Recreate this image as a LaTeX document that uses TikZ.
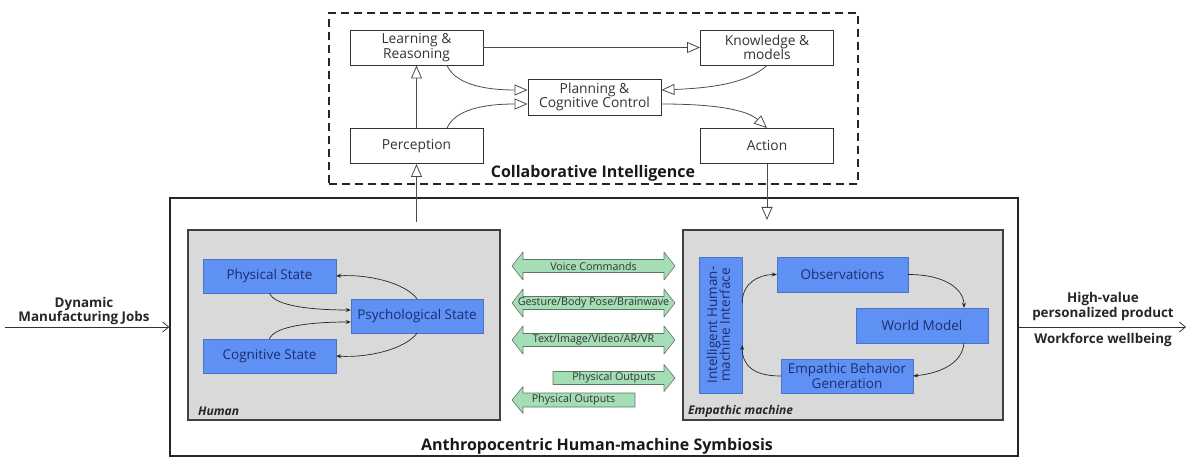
\documentclass[tikz,border=0pt]{standalone}
\usepackage{fontspec}
\setmainfont{Open Sans}
\usetikzlibrary{arrows.meta}

\definecolor{stateblue}{RGB}{95,145,245}
\definecolor{statetext}{RGB}{28,45,110}
\definecolor{panelgray}{RGB}{217,217,217}
\definecolor{chanfill}{RGB}{165,222,182}
\definecolor{chanline}{RGB}{95,118,100}

\tikzset{
  cibox/.style={draw=black!80, line width=0.9pt, fill=white, minimum width=133pt,
    minimum height=35pt, align=center, inner sep=0pt,
    font=\fontsize{13.8}{14.5}\selectfont, text=black!80},
  statebox/.style={fill=stateblue, draw=stateblue!80!black, line width=0.4pt,
    minimum width=133pt, minimum height=34pt, inner sep=0pt, align=center,
    font=\fontsize{13.5}{14.5}\selectfont, text=statetext},
  panelbox/.style={draw=black!75, line width=1.1pt, fill=panelgray, inner sep=0pt},
  hollow/.style={-{Triangle[open, length=13pt, width=11pt, fill=white]},
    draw=black!70, line width=0.8pt},
  solidtip/.style={-{Stealth[length=5pt, width=4pt]}, line width=0.7pt, draw=black!85},
  flowtip/.style={-{Straight Barb[length=6pt, width=10pt]}, line width=0.8pt, draw=black!80},
  chan/.style={draw=chanline, fill=chanfill, line width=0.6pt, line join=round},
  chantext/.style={font=\fontsize{10.7}{12}\selectfont, text=black!80, inner sep=0pt},
  sidelabel/.style={font=\bfseries\fontsize{13.4}{14}\selectfont, align=center,
    inner sep=0pt, text=black!85},
  paneltag/.style={font=\bfseries\itshape\fontsize{12}{13}\selectfont, anchor=west,
    inner sep=0pt, text=black!85},
}

% two-headed channel arrow: name, left x, right x, centre y, label
\newcommand\chanboth[5]{%
  \draw[chan] (#2,#4) -- ({#2+11},{#4-14}) -- ({#2+11},{#4-6.5})
    -- ({#3-11},{#4-6.5}) -- ({#3-11},{#4-14}) -- (#3,#4)
    -- ({#3-11},{#4+14}) -- ({#3-11},{#4+6.5}) -- ({#2+11},{#4+6.5})
    -- ({#2+11},{#4+14}) -- cycle;
  \node[chantext] (#1) at ({(#2+#3)/2},#4) {#5};}
% one-headed channel arrow pointing right
\newcommand\chanright[5]{%
  \draw[chan] (#2,{#4-6.5}) -- ({#3-11},{#4-6.5}) -- ({#3-11},{#4-13.5})
    -- (#3,#4) -- ({#3-11},{#4+13.5}) -- ({#3-11},{#4+6.5})
    -- (#2,{#4+6.5}) -- cycle;
  \node[chantext] (#1) at ({(#2+#3)/2},#4) {#5};}
% one-headed channel arrow pointing left
\newcommand\chanleft[5]{%
  \draw[chan] (#2,#4) -- ({#2+11},{#4-13.5}) -- ({#2+11},{#4-7})
    -- (#3,{#4-7}) -- (#3,{#4+7}) -- ({#2+11},{#4+7})
    -- ({#2+11},{#4+13.5}) -- cycle;
  \node[chantext] (#1) at ({(#2+#3)/2},#4) {#5};}

\begin{document}
\begin{tikzpicture}[x=1pt, y=-1pt]
\useasboundingbox (0,0) rectangle (1186,457);

% outer symbiosis frame and its two panels
\node[draw=black!85, line width=1.5pt, minimum width=848pt, minimum height=258pt,
  inner sep=0pt] (ahs) at (594,327) {};
\node[panelbox, minimum width=312pt, minimum height=190pt] (human) at (344,325) {};
\node[panelbox, minimum width=320pt, minimum height=190pt] (machine) at (843,325) {};
\node[paneltag] (humantag) at (198,411) {Human};
\node[paneltag] (machinetag) at (688,411) {Empathic machine};
\node[font=\bfseries\fontsize{16}{18}\selectfont, inner sep=0pt, text=black!90]
  (ahslabel) at (597,446) {Anthropocentric Human-machine Symbiosis};

% collaborative intelligence frame
\node[draw=black!85, line width=1.5pt, dash pattern=on 8pt off 5pt,
  minimum width=529pt, minimum height=171pt, inner sep=0pt] (ci) at (593.5,98.5) {};
\node[font=\bfseries\fontsize{16}{18}\selectfont, inner sep=0pt, text=black!90]
  (cilabel) at (593,173) {Collaborative Intelligence};

\node[cibox] (lr) at (416.5,47.5) {Learning \&\\Reasoning};
\node[cibox] (know) at (767,47.5) {Knowledge \&\\models};
\node[cibox, minimum height=36pt] (plan) at (594.5,97) {Planning \&\\Cognitive Control};
\node[cibox] (perc) at (416.5,146) {Perception};
\node[cibox] (act) at (767,146) {Action};

\draw[hollow] (lr.east) -- (know.west);
\draw[hollow] (perc.north) -- (lr.south);
\draw[hollow] ([xshift=30.5pt]lr.south) .. controls +(8,18) and +(-45,0) .. ([yshift=7pt]plan.west);
\draw[hollow] ([xshift=30.5pt]perc.north) .. controls +(8,-18) and +(-45,0) .. ([yshift=-7pt]plan.west);
\draw[hollow] (know.south) .. controls +(-20,18) and +(50,-2) .. ([yshift=7pt]plan.east);
\draw[hollow] ([yshift=-7pt]plan.east) .. controls +(55,0) and +(-20,-18) .. (act.north);

\coordinate (percin) at (416.5,222);
\coordinate (actout) at (767,220);
\draw[hollow] (percin) -- (perc.south);
\draw[hollow] (act.south) -- (actout);

% human states
\node[statebox] (phys) at (269.5,276) {Physical State};
\node[statebox, minimum width=132pt] (psych) at (417,316) {Psychological State};
\node[statebox] (cog) at (269.5,356) {Cognitive State};

\draw[solidtip] (psych.north) .. controls +(-12,-16) and +(32,-2) .. (phys.east);
\draw[solidtip] (phys.south) .. controls +(5,13) and +(-38,0) .. ([yshift=6pt]psych.west);
\draw[solidtip] (cog.north) .. controls +(5,-13) and +(-38,0) .. ([yshift=-6pt]psych.west);
\draw[solidtip] (psych.south) .. controls +(-12,16) and +(32,2) .. (cog.east);

% empathic machine
\node[statebox, minimum width=43pt, minimum height=136pt] (hmi) at (720.5,325)
  {\rotatebox{90}{\begin{tabular}{@{}c@{}}Intelligent Human-\\[-2pt]machine Interface\end{tabular}}};
\node[statebox, minimum width=131pt, minimum height=35pt] (obs) at (842.5,274.5) {Observations};
\node[statebox, minimum width=132pt, minimum height=35pt] (wm) at (922,325.5) {World Model};
\node[statebox, minimum width=132pt] (ebg) at (847,376) {Empathic Behavior\\Generation};

\draw[solidtip] ([yshift=22pt]hmi.east) .. controls +(0,-20) and +(-18,0) .. (obs.west);
\draw[solidtip] (obs.east) .. controls +(38,0) and +(0,-18) .. ([xshift=42pt]wm.north);
\draw[solidtip] ([xshift=42pt]wm.south) .. controls +(-2,20) and +(28,-3) .. (ebg.east);
\draw[solidtip] (ebg.west) .. controls +(-28,0) and +(0,20) .. ([yshift=-20pt]hmi.east);

% interaction channels
\chanboth{voice}{512}{675}{266}{Voice Commands}
\chanboth{gesture}{512}{675}{303}{Gesture/Body Pose/Brainwave}
\chanboth{media}{512}{675}{340}{Text/Image/Video/AR/VR}
\chanright{physout}{553}{675}{378}{Physical Outputs}
\chanleft{physin}{512}{635}{400}{Physical Outputs}

% inputs and outcomes
\coordinate (jobsin) at (5,327);
\coordinate (valueout) at (1186,327);
\draw[flowtip] (jobsin) -- (ahs.west);
\draw[flowtip] (ahs.east) -- (valueout);
\node[sidelabel] (jobs) at (84,311) {Dynamic\\Manufacturing Jobs};
\node[sidelabel, font=\bfseries\fontsize{13.4}{13}\selectfont] (value) at (1103,306.5)
  {High-value\\personalized product};
\node[sidelabel] (wellbeing) at (1103,340) {Workforce wellbeing};
\end{tikzpicture}
\end{document}
